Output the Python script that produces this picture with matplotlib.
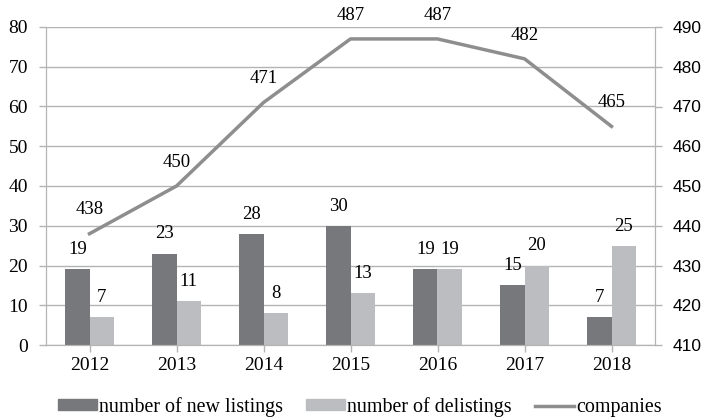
import matplotlib.pyplot as plt
import numpy as np
from matplotlib.patches import Patch
from matplotlib.lines import Line2D

years = ["2012", "2013", "2014", "2015", "2016", "2017", "2018"]
new_listings = [19, 23, 28, 30, 19, 15, 7]
delistings = [7, 11, 8, 13, 19, 20, 25]
companies = [438, 450, 471, 487, 487, 482, 465]

dark = "#77787b"
light = "#bcbdc0"
line_c = "#8e8e8e"
grid_c = "#b4b4b4"
serif = ["Liberation Serif", "DejaVu Serif"]
sans = ["Liberation Sans", "DejaVu Sans"]

fig = plt.figure(figsize=(7.07, 4.17), dpi=100)
ax = fig.add_axes([46 / 707, 1 - 345 / 417, (655 - 46) / 707, (345 - 27) / 417])
ax2 = ax.twinx()

x = np.arange(len(years))
w = 0.28
ax.bar(x - w / 2, new_listings, w, color=dark, zorder=2)
ax.bar(x + w / 2, delistings, w, color=light, zorder=2)
for xi, v in zip(x, new_listings):
    ax.annotate(str(v), (xi - w / 2, v), xytext=(0, 8), textcoords="offset points",
                ha="center", va="bottom", fontsize=13.5, family=serif)
for xi, v in zip(x, delistings):
    ax.annotate(str(v), (xi + w / 2, v), xytext=(0, 8), textcoords="offset points",
                ha="center", va="bottom", fontsize=13.5, family=serif)

ax.set_xlim(-0.5, len(years) - 0.5)
ax.set_ylim(0, 80)
ax.set_yticks(range(0, 81, 10))
ax.yaxis.grid(True, color=grid_c, linewidth=1)
ax.set_axisbelow(True)
ax.set_xticks(x)
ax.set_xticklabels(years, family=serif, fontsize=14)
for lab in ax.get_yticklabels():
    lab.set_family(serif)
    lab.set_fontsize(14)
ax.tick_params(axis="both", color=grid_c, length=5, width=1)
ax.tick_params(axis="y", pad=8)

ax2.plot(x, companies, color=line_c, linewidth=2.5, zorder=3)
for xi, v in zip(x, companies):
    ax2.annotate(str(v), (xi, v), xytext=(0, 11), textcoords="offset points",
                 ha="center", va="bottom", fontsize=13.5, family=serif)
ax2.set_ylim(410, 490)
ax2.set_yticks(range(410, 491, 10))
for lab in ax2.get_yticklabels():
    lab.set_family(sans)
    lab.set_fontsize(12.5)
ax2.tick_params(axis="y", color=grid_c, length=5, width=1, pad=8)

for a in (ax, ax2):
    a.spines["top"].set_visible(False)
    for s in ("left", "right", "bottom"):
        a.spines[s].set_color(grid_c)

handles = [Patch(color=dark), Patch(color=light), Line2D([0], [0], color=line_c, linewidth=2.5)]
labels = ["number of new listings", "number of delistings", "companies"]
fig.legend(handles, labels, loc="center", bbox_to_anchor=(360 / 707, 1 - 407 / 417), ncol=3,
           frameon=False, prop={"family": serif, "size": 14.4}, handlelength=1.95,
           handletextpad=0.1, columnspacing=1.15, handleheight=0.45, borderpad=0)

fig.savefig("out.png", dpi=100)
